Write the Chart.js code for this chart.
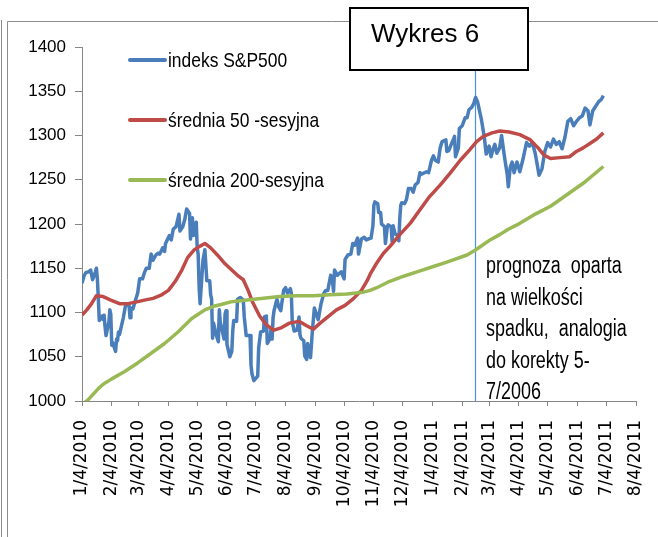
<!DOCTYPE html>
<html>
<head>
<meta charset="utf-8">
<script src="https://cdn.jsdelivr.net/npm/chart.js@4.4.1/dist/chart.umd.min.js"></script>
<style>
  html, body { margin: 0; padding: 0; background: #fff; }
  #wrap { width: 658px; height: 537px; position: relative; }
</style>
</head>
<body>
<div id="wrap"><canvas id="chart" width="658" height="537"></canvas></div>
<script>
// x values are trading days counted from 1/4/2010
const xTickLabels = ['1/4/2010', '2/4/2010', '3/4/2010', '4/4/2010', '5/4/2010', '6/4/2010',
  '7/4/2010', '8/4/2010', '9/4/2010', '10/4/2010', '11/4/2010', '12/4/2010', '1/4/2011',
  '2/4/2011', '3/4/2011', '4/4/2011', '5/4/2011', '6/4/2011', '7/4/2011', '8/4/2011'];
const yTicks = [1000, 1050, 1100, 1150, 1200, 1250, 1300, 1350, 1400];

const seriesNames = ['indeks S&P500', 'średnia 50 -sesyjna', 'średnia 200-sesyjna'];
const seriesColors = ['#4A7EBB', '#BE4B48', '#98B954'];

// S&P500 close, [day, value]
const sp500 = [
  [0,1133],[2,1141],[4,1145],[7,1146],[9,1148],[11,1137],[14,1146],[15,1150],[16,1138],[17,1116],
  [18,1091],[21,1096],[22,1092],[23,1097],[24,1084],[25,1074],[28,1089],[29,1103],[30,1098],[31,1063],
  [32,1066],[35,1056],[36,1070],[37,1068],[38,1078],[39,1075],[43,1094],[45,1106],[46,1109],[49,1108],
  [50,1094],[51,1105],[53,1104],[56,1115],[58,1122],[60,1138],[63,1138],[65,1145],[67,1150],[70,1150],
  [72,1166],[74,1159],[77,1165],[79,1167],[81,1166],[84,1173],[86,1169],[87,1178],[91,1187],[93,1182],
  [95,1194],[98,1197],[101,1211],[102,1192],[105,1197],[107,1205],[109,1217],[112,1212],[113,1183],[115,1207],
  [116,1187],[119,1202],[120,1173],[121,1166],[122,1128],[123,1110],[126,1159],[128,1171],[130,1136],[133,1136],
  [134,1120],[135,1115],[136,1071],[137,1088],[140,1074],[142,1067],[143,1103],[144,1089],[148,1070],[149,1098],
  [150,1102],[151,1064],[154,1050],[156,1056],[157,1079],[158,1091],[161,1090],[162,1115],[165,1117],[168,1114],
  [169,1095],[171,1074],[175,1074],[176,1041],[177,1031],[178,1027],[179,1023],[183,1028],[184,1060],[186,1078],
  [189,1079],[190,1095],[192,1096],[193,1065],[196,1071],[197,1083],[198,1070],[199,1094],[200,1102],[203,1115],
  [205,1106],[207,1102],[210,1125],[212,1128],[214,1122],[217,1127],[218,1122],[219,1089],[221,1079],[224,1080],
  [226,1095],[227,1075],[228,1071],[231,1068],[232,1051],[234,1047],[235,1065],[238,1049],[240,1080],[242,1105],
  [246,1092],[248,1104],[249,1110],[252,1122],[254,1125],[256,1125],[259,1142],[261,1134],[262,1124],[263,1148],
  [266,1142],[268,1144],[270,1146],[273,1138],[274,1160],[277,1165],[280,1166],[282,1178],[284,1176],[287,1184],
  [288,1166],[291,1183],[294,1185],[296,1182],[298,1183],[301,1184],[303,1198],[304,1221],[305,1225],[308,1223],
  [309,1213],[311,1213],[312,1200],[315,1197],[316,1178],[318,1197],[319,1199],[322,1197],[323,1180],[324,1198],
  [326,1189],[329,1187],[330,1181],[331,1206],[332,1221],[333,1224],[336,1223],[338,1228],[340,1240],[343,1240],
  [345,1236],[347,1244],[350,1247],[352,1258],[353,1256],[357,1258],[359,1259],[361,1258],[364,1272],[366,1277],
  [368,1272],[371,1270],[373,1286],[375,1293],[379,1295],[380,1282],[382,1283],[385,1291],[387,1296],[388,1299],
  [389,1276],[392,1286],[393,1308],[396,1311],[399,1320],[401,1320],[403,1329],[406,1332],[408,1336],[409,1340],
  [410,1343],[412,1338],[416,1318],[419,1298],[421,1279],[424,1288],[426,1276],[428,1284],[430,1290],[432,1280],
  [435,1286],[437,1300],[440,1276],[443,1255],[444,1242],[446,1264],[448,1270],[450,1258],[453,1270],[456,1259],
  [459,1272],[463,1292],[466,1288],[469,1292],[472,1280],[474,1268],[476,1255],[479,1262],[482,1282],[485,1292],
  [488,1287],[491,1296],[494,1290],[497,1293],[500,1285],[503,1298],[506,1316],[509,1319],[512,1311],[515,1316],
  [518,1320],[521,1322],[524,1331],[527,1328],[529,1312],[532,1328],[535,1333],[538,1338],[541,1341],[543,1345]
];

// 50-session moving average, [day, value]
const ma50 = [
  [0,1097],[5,1103],[10,1110],[15,1119],[22,1118],[30,1114],[39,1110],[48,1110],[57,1112],[65,1114],
  [74,1116],[83,1120],[90,1125],[97,1135],[104,1148],[110,1162],[117,1171],[123,1175],[128,1178],[134,1173],
  [141,1165],[149,1155],[156,1148],[163,1141],[168,1137],[173,1125],[178,1111],[185,1096],[192,1086],[200,1080],
  [208,1083],[216,1088],[226,1090],[234,1085],[241,1081],[248,1088],[256,1095],[265,1103],[274,1108],[283,1116],
  [291,1125],[297,1136],[300,1143],[307,1156],[314,1167],[321,1175],[331,1188],[342,1201],[352,1216],[362,1231],
  [373,1244],[383,1257],[394,1272],[404,1284],[411,1293],[418,1299],[427,1303],[435,1305],[445,1304],[456,1301],
  [467,1295],[475,1286],[481,1278],[488,1274],[498,1275],[508,1276],[515,1282],[522,1286],[529,1291],[536,1296],
  [543,1303]
];

// 200-session moving average, [day, value]
const ma200 = [
  [0,996],[6,1001],[17,1014],[22,1019],[31,1025],[44,1033],[58,1043],[72,1054],[86,1065],[100,1078],
  [114,1093],[121,1098],[128,1103],[137,1107],[145,1109],[155,1112],[162,1113],[172,1114],[189,1116],[206,1118],
  [224,1119],[241,1119],[258,1120],[276,1121],[293,1123],[300,1125],[307,1128],[320,1135],[335,1141],[352,1147],
  [366,1152],[380,1157],[401,1165],[409,1170],[417,1176],[425,1182],[435,1188],[444,1194],[453,1199],[470,1210],
  [488,1220],[505,1233],[522,1246],[543,1265]
];

const markerDay = 409;   // vertical line at the February 2011 peak
const titleText = 'Wykres 6';
const noteLines = ['prognoza  oparta', 'na wielkości', 'spadku,  analogia', 'do korekty 5-', '7/2006'];

const textFont = '"Liberation Sans", Arial, sans-serif';

// day offset of each x tick label
const day0 = Date.UTC(2010, 0, 4);
const xTickDays = xTickLabels.map(s => {
    const [m, d, y] = s.split('/').map(Number);
    return Math.round((Date.UTC(y, m - 1, d) - day0) / 86400000);
});

const toPoints = arr => arr.map(p => ({ x: p[0], y: p[1] }));

// draw text a bit condensed, the original uses a narrow font
function narrowText(ctx, text, x, y, squeeze) {
    ctx.save();
    ctx.translate(x, y);
    ctx.scale(squeeze, 1);
    ctx.fillText(text, 0, 0);
    ctx.restore();
}

// frame lines around the chart object
const framePlugin = {
    id: 'frame',
    beforeDraw(chart) {
        const ctx = chart.ctx;
        ctx.save();
        ctx.strokeStyle = '#8c8c8c';
        ctx.lineWidth = 1;
        ctx.beginPath();
        ctx.moveTo(1.5, 20); ctx.lineTo(1.5, 537);
        ctx.moveTo(7.5, 21.5); ctx.lineTo(7.5, 537);
        ctx.moveTo(7.5, 21.5); ctx.lineTo(658, 21.5);
        ctx.stroke();
        ctx.restore();
    }
};

// thin vertical marker line under the series
const markerPlugin = {
    id: 'marker',
    beforeDatasetsDraw(chart) {
        const ctx = chart.ctx;
        const x = Math.round(chart.scales.x.getPixelForValue(markerDay)) + 0.5;
        ctx.save();
        ctx.strokeStyle = '#4A90E2';
        ctx.lineWidth = 1.2;
        ctx.beginPath();
        ctx.moveTo(x, 30);
        ctx.lineTo(x, chart.chartArea.bottom);
        ctx.stroke();
        ctx.restore();
    }
};

// legend, note and title box
const overlayPlugin = {
    id: 'overlay',
    afterDatasetsDraw(chart) {
        const ctx = chart.ctx;
        ctx.save();

        // legend inside the plot
        seriesNames.forEach((name, i) => {
            const y = 60 + i * 60;
            ctx.strokeStyle = seriesColors[i];
            ctx.lineWidth = 4;
            ctx.lineCap = 'round';
            ctx.beginPath();
            ctx.moveTo(130, y);
            ctx.lineTo(165, y);
            ctx.stroke();
            ctx.fillStyle = '#000';
            ctx.font = '21px ' + textFont;
            ctx.textBaseline = 'middle';
            ctx.textAlign = 'left';
            narrowText(ctx, name, 168, y + 1, 0.83);
        });

        // note text
        ctx.font = '23px ' + textFont;
        ctx.textBaseline = 'alphabetic';
        noteLines.forEach((line, i) => {
            narrowText(ctx, line, 486, 273 + i * 31.6, 0.78);
        });

        // title box
        ctx.fillStyle = '#fff';
        ctx.fillRect(350, 8, 178, 62);
        ctx.strokeStyle = '#000';
        ctx.lineWidth = 2;
        ctx.strokeRect(350, 8, 178, 62);
        ctx.fillStyle = '#000';
        ctx.font = '26px ' + textFont;
        ctx.textBaseline = 'middle';
        ctx.fillText(titleText, 371, 35);

        ctx.restore();
    }
};

const ctx = document.getElementById('chart').getContext('2d');
new Chart(ctx, {
    type: 'line',
    data: {
        datasets: [
            { label: seriesNames[0], data: toPoints(sp500), borderColor: seriesColors[0], order: 3 },
            { label: seriesNames[1], data: toPoints(ma50), borderColor: seriesColors[1], order: 2 },
            { label: seriesNames[2], data: toPoints(ma200), borderColor: seriesColors[2], order: 1 }
        ]
    },
    options: {
        responsive: false,
        animation: false,
        devicePixelRatio: 1,
        parsing: false,
        datasets: {
            line: { borderWidth: 3.5, pointRadius: 0, tension: 0, fill: false, borderJoinStyle: 'round' }
        },
        layout: { padding: { top: 47, right: 22, bottom: 0, left: 0 } },
        plugins: {
            legend: { display: false },
            tooltip: { enabled: false }
        },
        scales: {
            x: {
                type: 'linear',
                min: xTickDays[0],
                max: xTickDays[xTickDays.length - 1],
                afterBuildTicks: scale => { scale.ticks = xTickDays.map(v => ({ value: v })); },
                afterFit: scale => {
                    scale.height = 136;
                    // labels are rotated, no extra side padding needed
                    scale.paddingLeft = 0;
                    scale.paddingRight = 0;
                },
                ticks: {
                    autoSkip: false,
                    minRotation: 90,
                    maxRotation: 90,
                    padding: 14,
                    color: '#000',
                    font: { family: 'DejaVu Sans', size: 17 },
                    callback: (v, i) => xTickLabels[i]
                },
                grid: { drawOnChartArea: false, tickLength: 5, color: '#868686' },
                border: { color: '#868686' }
            },
            y: {
                min: yTicks[0],
                max: yTicks[yTicks.length - 1],
                afterBuildTicks: scale => { scale.ticks = yTicks.map(v => ({ value: v })); },
                afterFit: scale => { scale.width = 82; },
                ticks: {
                    padding: 9,
                    color: '#000',
                    font: { family: textFont, size: 17 },
                    callback: v => String(v)
                },
                grid: { drawOnChartArea: false, tickLength: 7, color: '#868686' },
                border: { color: '#868686' }
            }
        }
    },
    plugins: [framePlugin, markerPlugin, overlayPlugin]
});
</script>
</body>
</html>
